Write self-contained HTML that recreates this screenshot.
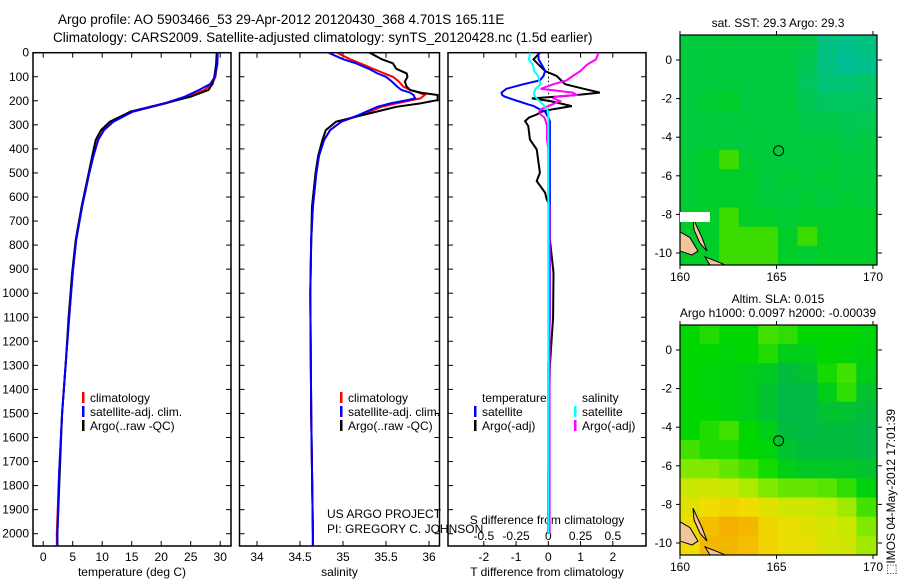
<!DOCTYPE html>
<html><head><meta charset="utf-8"><style>
body{margin:0;background:#fff;}
svg{display:block;font-family:"Liberation Sans",sans-serif;}
text{fill:#000;}
</style></head><body>
<svg id="fig" width="900" height="580" viewBox="0 0 900 580">
<text x="58" y="24" font-size="13.5">Argo profile: AO 5903466_53 29-Apr-2012 20120430_368 4.701S 165.11E</text>
<text x="53" y="42" font-size="13.5">Climatology: CARS2009. Satellite-adjusted climatology: synTS_20120428.nc (1.5d earlier)</text>
<g id="g1"></g>
<g id="g2"></g>
<g id="g3"></g>
<g id="m1"></g>
<g id="m2"></g>
<text x="327" y="518" font-size="12">US ARGO PROJECT</text>
<text x="327" y="533" font-size="12">PI: GREGORY C. JOHNSON</text>
<text transform="translate(895,575) rotate(-90)" font-size="12">⬚IMOS 04-May-2012 17:01:39</text>
</svg>
<script>
// ---- data ----
const depthT = [0,50,100,130,155,183,211,245,287,322,363,430,502,640,779,917,1100,1300,1500,1750,2000,2050];
const tempArgo = [29.4,29.3,29.0,28.7,28.0,25.0,20.5,14.8,11.3,9.8,8.9,8.3,7.7,6.5,5.5,4.9,4.3,3.8,3.2,2.8,2.4,2.4];
const tempClim = [29.5,29.4,29.2,28.6,27.3,24.6,20.8,15.2,11.8,10.2,9.3,8.5,7.8,6.6,5.6,5.0,4.4,3.8,3.2,2.7,2.3,2.3];
const tempSat = [29.6,29.5,29.1,28.3,26.4,24.0,20.5,15.2,11.9,10.3,9.3,8.5,7.8,6.6,5.6,5.0,4.4,3.8,3.2,2.7,2.4,2.4];
const depthS = [0,27,44,67,86,100,120,141,155,166,176,190,197,211,225,259,287,322,363,430,502,640,779,1000,1500,2000,2050];
const salArgo = [35.31,35.45,35.58,35.62,35.74,35.75,35.72,35.74,35.78,35.90,36.1,36.1,36.1,35.9,35.62,35.23,34.92,34.80,34.76,34.71,34.68,34.64,34.63,34.62,34.63,34.65,34.65];
const salClim = [34.93,35.08,35.2,35.35,35.48,35.58,35.65,35.70,35.78,35.88,35.95,35.90,35.80,35.62,35.45,35.2,34.98,34.85,34.78,34.72,34.69,34.65,34.63,34.62,34.63,34.65,34.65];
const salSat = [34.83,35.0,35.15,35.3,35.40,35.5,35.57,35.63,35.68,35.78,35.82,35.84,35.75,35.55,35.40,35.18,34.98,34.85,34.78,34.72,34.69,34.65,34.63,34.62,34.63,34.65,34.65];
const depthD = [0,28,50,76,97,115,131,150,166,176,183,190,201,215,222,236,245,257,270,285,305,361,402,499,534,582,610,638,776,915,1100,1300,1500,1800,2000];
const dTArgo = [-0.26,-0.46,-0.3,-0.1,0.26,0.4,0.52,1.1,1.6,0.88,0.2,-0.51,0.05,0.5,0.73,0.1,-0.2,-0.36,-0.6,-0.72,-0.62,-0.57,-0.36,-0.26,-0.36,-0.1,-0.05,0.05,0.05,0.16,0.15,0.05,0.02,0.0,0.0];
const dTSat = [-0.31,-0.3,-0.2,-0.1,-0.15,-0.26,-0.77,-1.3,-1.45,-1.43,-1.35,-1.19,-0.95,-0.62,-0.45,-0.26,-0.1,-0.05,0.0,0.05,0.05,0.05,0.05,0.05,0.05,0.05,0.05,0.05,0.05,0.05,0.05,0.0,0.0,0.0,0.0];
const dSArgo = [0.39,0.37,0.30,0.25,0.19,0.14,0.04,-0.06,0.19,0.22,0.05,0.04,0.09,0.03,0.0,-0.06,-0.07,-0.06,-0.03,-0.02,-0.01,-0.01,0.0,0.0,0.0,0.0,0.0,0.01,0.01,0.01,0.01,0.01,0.01,0.01,0.01];
const dSSat = [-0.14,-0.15,-0.12,-0.11,-0.08,-0.07,-0.06,-0.1,-0.11,-0.11,-0.1,-0.09,-0.07,-0.04,-0.03,-0.01,0,0,0,0,0,0,0,0,0,0,0,0,0,0,0,0,0,0,0];
const depthTicks = [0,100,200,300,400,500,600,700,800,900,1000,1100,1200,1300,1400,1500,1600,1700,1800,1900,2000];
const tempTicks = [0,5,10,15,20,25,30];
const salTicks = [34,34.5,35,35.5,36];
const dTTicks = [-2,-1,0,1,2];
const dSTicks = [-0.5,-0.25,0,0.25,0.5];
const lonTicks = [160,165,170];
const latTicks = [0,-2,-4,-6,-8,-10];
// SLA map grid (rows from north to south, 10 columns 160..170)
const slaGrid = [
[0.35,0.4,0.35,0.35,0.45,0.42,0.35,0.35,0.35,0.33],
[0.35,0.35,0.33,0.35,0.4,0.3,0.3,0.35,0.33,0.32],
[0.35,0.33,0.32,0.3,0.28,0.22,0.25,0.38,0.45,0.3],
[0.35,0.33,0.32,0.3,0.25,0.2,0.2,0.3,0.42,0.25],
[0.35,0.35,0.32,0.3,0.25,0.2,0.2,0.25,0.25,0.22],
[0.35,0.4,0.45,0.35,0.3,0.22,0.2,0.22,0.22,0.2],
[0.45,0.4,0.4,0.35,0.33,0.25,0.22,0.22,0.22,0.2],
[0.55,0.55,0.5,0.45,0.38,0.3,0.27,0.27,0.27,0.25],
[0.68,0.7,0.68,0.62,0.55,0.5,0.5,0.48,0.42,0.32],
[0.75,0.8,0.82,0.8,0.75,0.7,0.7,0.66,0.6,0.45],
[0.8,0.88,0.92,0.9,0.82,0.78,0.75,0.72,0.68,0.55],
[0.8,0.9,0.9,0.88,0.82,0.78,0.78,0.72,0.7,0.6]];
// SST map grid
const sstGrid = [
[0.3,0.3,0.28,0.3,0.3,0.3,0.35,0.6,0.65,0.6],
[0.3,0.28,0.3,0.32,0.3,0.3,0.4,0.6,0.7,0.65],
[0.3,0.3,0.28,0.3,0.32,0.3,0.45,0.55,0.55,0.5],
[0.3,0.25,0.2,0.3,0.3,0.28,0.4,0.45,0.45,0.45],
[0.3,0.28,0.3,0.28,0.3,0.3,0.35,0.35,0.4,0.38],
[0.3,0.28,0.28,0.3,0.28,0.3,0.3,0.3,0.35,0.32],
[0.25,0.2,0.15,0.25,0.28,0.3,0.3,0.28,0.3,0.3],
[0.25,0.2,0.2,0.22,0.3,0.25,0.28,0.25,0.3,0.28],
[0.25,0.2,0.2,0.22,0.28,0.3,0.25,0.3,0.25,0.28],
[0.2,0.2,0.1,0.2,0.22,0.25,0.2,0.2,0.22,0.2],
[0.2,0.2,0.1,0.15,0.15,0.2,0.15,0.2,0.2,0.2],
[0.2,0.2,0.15,0.12,0.15,0.2,0.25,0.2,0.2,0.2]];

const NS='http://www.w3.org/2000/svg';
function mk(tag,attrs,parent){const e=document.createElementNS(NS,tag);for(const k in attrs)e.setAttribute(k,attrs[k]);parent.appendChild(e);return e;}
const TOP=52.7, BOT=546, PXD=0.2405;
const yD=d=>TOP+d*PXD;

function panel(g,x0,x1,xs,ticks,fmt,labelTxt,name){
  const r=mk('rect',{x:x0,y:TOP,width:x1-x0,height:BOT-TOP,fill:'none',stroke:'#000','stroke-width':1.5},g);
  
  
  depthTicks.forEach(d=>{const y=yD(d);mk('line',{x1:x0,x2:x0+5,y1:y,y2:y,stroke:'#000'},g);mk('line',{x1:x1-5,x2:x1,y1:y,y2:y,stroke:'#000'},g);});
  ticks.forEach(v=>{const x=xs(v);mk('line',{x1:x,x2:x,y1:TOP,y2:TOP+5,stroke:'#000'},g);mk('line',{x1:x,x2:x,y1:BOT-5,y2:BOT,stroke:'#000'},g);
    const t=mk('text',{x:x,y:561,'font-size':12,'text-anchor':'middle'},g);t.textContent=fmt(v);
    
    });
  const lt=mk('text',{x:(x0+x1)/2,y:576,'font-size':12,'text-anchor':'middle'},g);lt.textContent=labelTxt;
  
  
}
function series(g,xs,depths,vals,color,name){
  const pts=depths.map((d,i)=>xs(vals[i]).toFixed(1)+','+yD(d).toFixed(1)).join(' ');
  const p=mk('polyline',{points:pts,fill:'none',stroke:color,'stroke-width':2},g);
  
  
}
function legend(g,x,y,color,txt,name){
  if(color) mk('rect',{x:x,y:y-10,width:2.5,height:11,fill:color},g);
  const t=mk('text',{x:x+8,y:y,'font-size':12},g);t.textContent=txt;
  
  
}
// y-axis labels
const g1=document.getElementById('g1');
depthTicks.forEach(d=>{const t=mk('text',{x:29,y:yD(d)+4,'font-size':12,'text-anchor':'end'},g1);t.textContent=d;
  
  });
// panel 1
const xT=v=>43.2+v*5.9;
panel(g1,33,231,xT,tempTicks,v=>v,'temperature (deg C)','temperature');
series(g1,xT,depthT,tempClim,'#f00','temp-climatology-line');
series(g1,xT,depthT,tempArgo,'#000','temp-argo-line');
series(g1,xT,depthT,tempSat,'#00f','temp-satellite-line');
legend(g1,82,402,'#f00','climatology','legend-climatology');
legend(g1,82,416,'#00f','satellite-adj. clim.','legend-satellite');
legend(g1,82,430,'#000','Argo(..raw -QC)','legend-argo');
// panel 2
const g2=document.getElementById('g2');
const xS=v=>257+(v-34)*86;
panel(g2,239.5,439.5,xS,salTicks,v=>v,'salinity','salinity');
const clipS=mk('clipPath',{id:'cs'},g2);mk('rect',{x:239.5,y:TOP,width:200,height:BOT-TOP},clipS);
const gs=mk('g',{'clip-path':'url(#cs)'},g2);
series(gs,xS,depthS,salClim,'#f00','sal-climatology-line');
series(gs,xS,depthS,salArgo,'#000','sal-argo-line');
series(gs,xS,depthS,salSat,'#00f','sal-satellite-line');
legend(g2,340,402,'#f00','climatology','legend-climatology');
legend(g2,340,416,'#00f','satellite-adj. clim.','legend-satellite');
legend(g2,340,430,'#000','Argo(..raw -QC)','legend-argo');
// panel 3
const g3=document.getElementById('g3');
const xDT=v=>548.3+v*32.25, xDS=v=>548.3+v*129;
panel(g3,448,646,xDT,dTTicks,v=>v,'T difference from climatology','difference');
for(let y=TOP;y<140;y+=4)mk('rect',{x:548,y:y,width:1,height:1.5,fill:'#000'},g3);
dSTicks.forEach(v=>{const t=mk('text',{x:xDS(v),y:540,'font-size':12,'text-anchor':'middle'},g3);t.textContent=v;
  
  });
const st=mk('text',{x:547,y:524,'font-size':12,'text-anchor':'middle'},g3);st.textContent='S difference from climatology';


series(g3,xDT,depthD,dTArgo,'#000','t-diff-argo-line');
series(g3,xDT,depthD,dTSat,'#00f','t-diff-satellite-line');
series(g3,xDS,depthD,dSArgo,'#f0f','s-diff-argo-line');
series(g3,xDS,depthD,dSSat,'#0ff','s-diff-satellite-line');
legend(g3,474,402,null,'temperature','legend-temperature-header');
legend(g3,474,416,'#00f','satellite','legend-t-satellite');
legend(g3,474,430,'#000','Argo(-adj)','legend-t-argo');
legend(g3,574,402,null,'salinity','legend-salinity-header');
legend(g3,574,416,'#0ff','satellite','legend-s-satellite');
legend(g3,574,430,'#f0f','Argo(-adj)','legend-s-argo');
// maps
function cmap(v){const stops=[[0,[0,150,200]],[0.2,[0,185,70]],[0.35,[0,215,0]],[0.5,[100,230,0]],[0.65,[190,235,0]],[0.8,[240,220,0]],[0.95,[245,165,0]],[1,[240,120,0]]];
  for(let i=1;i<stops.length;i++){if(v<=stops[i][0]){const a=stops[i-1],b=stops[i],f=(v-a[0])/(b[0]-a[0]);return 'rgb('+a[1].map((c,j)=>Math.round(c+(b[1][j]-c)*f)).join(',')+')';}}return 'rgb(240,120,0)';}
function drawMap(g,top,bot,grid,title,name,sstCols){
  const lonX=v=>680+(v-160)*19.3, latY=v=>top+25+(-v)*19.3;
  const x0=680,x1=876,rows=grid.length,cols=grid[0].length,cw=(x1-x0)/cols,ch=(bot-top)/rows;
  grid.forEach((row,i)=>row.forEach((v,j)=>{const c=mk('rect',{x:x0+j*cw,y:top+i*ch,width:cw+0.5,height:ch+0.5,fill:sstCols?sstCols(v):cmap(v)},g);
    
    }));
  // land
  mk('path',{d:`M${x0} ${latY(-8.9)} L${x0+10} ${latY(-9.2)} L${x0+18} ${latY(-9.9)} L${x0+12} ${latY(-10.1)} L${x0} ${latY(-9.9)}Z`,fill:'#f2c49b',stroke:'#000','stroke-width':1},g);
  mk('path',{d:`M${x0+13} ${latY(-8.2)} L${x0+22} ${latY(-9.2)} L${x0+27} ${latY(-9.9)} L${x0+20} ${latY(-9.5)} L${x0+14} ${latY(-8.8)}Z`,fill:'#f2c49b',stroke:'#000','stroke-width':1},g);
  mk('path',{d:`M${x0+25} ${latY(-10.2)} L${x0+40} ${latY(-10.5)} L${x0+45} ${bot} L${x0+30} ${bot}Z`,fill:'#f2c49b',stroke:'#000','stroke-width':1},g);
  const c=mk('circle',{cx:lonX(165.11),cy:latY(-4.701),r:5,fill:'none',stroke:'#000','stroke-width':1},g);
  
  
  mk('rect',{x:x0,y:top,width:197,height:bot-top,fill:'none',stroke:'#000','stroke-width':1.2},g);
  lonTicks.forEach(v=>{const x=lonX(v);mk('line',{x1:x,x2:x,y1:bot,y2:bot+4,stroke:'#000'},g);mk('line',{x1:x,x2:x,y1:top-4,y2:top,stroke:'#000'},g);
    const t=mk('text',{x:x,y:bot+16,'font-size':12,'text-anchor':'middle'},g);t.textContent=v;
    
    });
  latTicks.forEach(v=>{const y=latY(v);mk('line',{x1:x0-4,x2:x0,y1:y,y2:y,stroke:'#000'},g);mk('line',{x1:x1+2,x2:x1+6,y1:y,y2:y,stroke:'#000'},g);
    const t=mk('text',{x:x0-8,y:y+4,'font-size':12,'text-anchor':'end'},g);t.textContent=v;
    
    });
  title.forEach((s,i)=>{const t=mk('text',{x:778,y:top-22+i*14+(title.length==1?14:0),'font-size':12,'text-anchor':'middle'},g);t.textContent=s;
    
    });
}
function sstCol(v){const a=[0,205,40],b=[0,190,150],f=Math.max(0,Math.min(1,(v-0.2)/0.5));
  const base=v<0.2?[60,220,0]:a;return 'rgb('+base.map((c,j)=>Math.round(c+(b[j]-c)*f)).join(',')+')';}
drawMap(document.getElementById('m1'),35,265,sstGrid,['sat. SST: 29.3 Argo: 29.3'],'sst-map',sstCol);
mk('rect',{x:680,y:212,width:30,height:10,fill:'#fff'},document.getElementById('m1'));
drawMap(document.getElementById('m2'),325,555,slaGrid,['Altim. SLA: 0.015','Argo h1000: 0.0097 h2000: -0.00039'],'sla-map');
</script>
</body></html>
